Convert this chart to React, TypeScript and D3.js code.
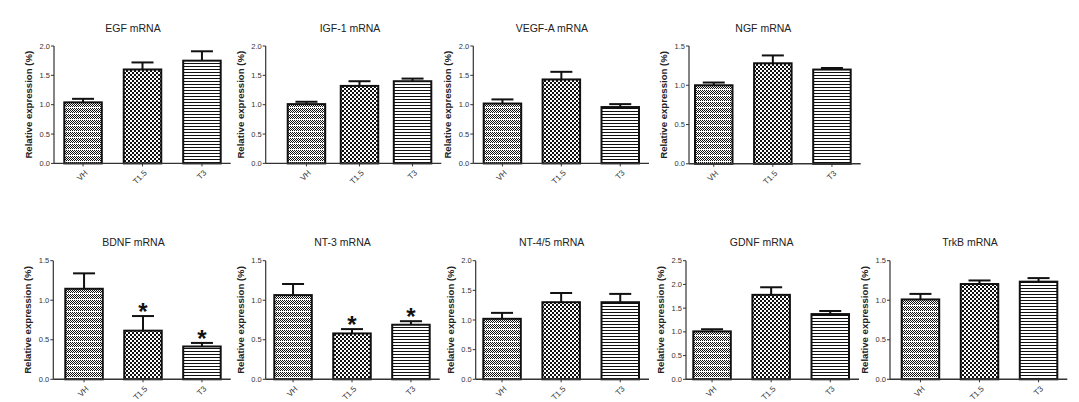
import React from "react";
import * as d3 from "d3";

// ---------- data ----------
const categories = ["VH", "T1.5", "T3"];
const titles = ["EGF mRNA", "IGF-1 mRNA", "VEGF-A mRNA", "NGF mRNA", "BDNF mRNA", "NT-3 mRNA", "NT-4/5 mRNA", "GDNF mRNA", "TrkB mRNA"];
const yMaxValues = [2.0, 2.0, 2.0, 1.5, 1.5, 1.5, 2.0, 2.5, 1.5];
const meanVH = [1.04, 1.01, 1.02, 1.0, 1.145, 1.065, 1.02, 1.01, 1.01];
const meanT15 = [1.6, 1.32, 1.43, 1.28, 0.615, 0.58, 1.3, 1.78, 1.205];
const meanT3 = [1.75, 1.4, 0.96, 1.2, 0.415, 0.69, 1.3, 1.375, 1.235];
const errVH = [0.06, 0.04, 0.07, 0.035, 0.195, 0.14, 0.1, 0.045, 0.07];
const errT15 = [0.12, 0.08, 0.13, 0.1, 0.185, 0.055, 0.155, 0.16, 0.045];
const errT3 = [0.16, 0.045, 0.05, 0.02, 0.045, 0.045, 0.14, 0.065, 0.045];
const starT15 = [false, false, false, false, true, true, false, false, false];
const starT3 = [false, false, false, false, true, true, false, false, false];
const yLabel = "Relative expression (%)";

// ---------- layout ----------
const axisXs = [54, 265.7, 473.3, 689, 53.3, 265.7, 475.7, 686, 890];
const firstLefts = [63.3, 286.7, 482.7, 694, 64.3, 273.3, 482.3, 692.3, 900.7];
const lastRights = [221.7, 432.3, 640, 851.7, 221.7, 430.7, 640, 850, 1058.3];
const rowTop = [46, 46, 46, 46, 260.7, 260.7, 260.7, 260.7, 260.7];
const rowBottom = [163.4, 163.4, 163.4, 163.8, 379.3, 379.3, 379.3, 379.3, 379.3];
const BAR_W = 39.5;
const patternIds = ["patVH", "patT15", "patT3"];
const FONT = "'Liberation Sans', Arial, sans-serif";

function Panel({ i }: { i: number }) {
  const means = [meanVH[i], meanT15[i], meanT3[i]];
  const errs = [errVH[i], errT15[i], errT3[i]];
  const stars = [false, starT15[i], starT3[i]];
  const W = lastRights[i] - firstLefts[i];
  const pad = (W - 3 * BAR_W) / (W - BAR_W);
  const x = d3.scaleBand<string>().domain(categories).range([firstLefts[i], lastRights[i]]).paddingInner(pad).paddingOuter(0);
  const y = d3.scaleLinear().domain([0, yMaxValues[i]]).range([rowBottom[i], rowTop[i]]);
  const ticks = d3.range(0, yMaxValues[i] + 0.001, 0.5);
  const ax = axisXs[i];
  const y0 = rowBottom[i];
  const xEnd = lastRights[i] + 9;
  const bw = x.bandwidth();
  const midCenter = (x("T1.5") as number) + bw / 2;
  const titleY = rowTop[i] - 14.5;
  return (
    <g>
      <text x={midCenter - 9.5} y={titleY} textAnchor="middle" fontSize={10.5} fill="#222" fontFamily={FONT}>
        {titles[i]}
      </text>
      {/* y label */}
      <text
        transform={`translate(${ax - 22},${(rowTop[i] + y0) / 2}) rotate(-90)`}
        textAnchor="middle"
        fontSize={9.6}
        fontWeight="bold"
        fill="#222"
        fontFamily={FONT}
      >
        {yLabel}
      </text>
      {/* bars */}
      {categories.map((c, k) => {
        const bx = x(c) as number;
        const top = y(means[k]);
        const etop = y(means[k] + errs[k]);
        const cx = bx + bw / 2;
        return (
          <g key={c}>
            <line x1={cx} x2={cx} y1={top} y2={etop} stroke="#111" strokeWidth={2} />
            <line x1={cx - 11} x2={cx + 11} y1={etop} y2={etop} stroke="#111" strokeWidth={2} />
            <rect x={bx + 1} y={top} width={bw - 2} height={y0 - top} fill={`url(#${patternIds[k]})`} stroke="#111" strokeWidth={2} />
            {stars[k] && (
              <text x={cx} y={etop + 4} textAnchor="middle" fontSize={24} fontWeight="bold" fill="#111" fontFamily={FONT}>
                *
              </text>
            )}
          </g>
        );
      })}
      {/* axes */}
      <line x1={ax} x2={ax} y1={rowTop[i]} y2={y0} stroke="#333" strokeWidth={1.2} />
      <line x1={ax} x2={xEnd} y1={y0} y2={y0} stroke="#333" strokeWidth={1.4} />
      {ticks.map((t) => (
        <g key={t}>
          <line x1={ax - 3} x2={ax} y1={y(t)} y2={y(t)} stroke="#333" strokeWidth={1} />
          <text x={ax - 4} y={y(t)} dy="0.35em" textAnchor="end" fontSize={7.5} fill="#333" fontFamily={FONT}>
            {t.toFixed(1)}
          </text>
        </g>
      ))}
      {categories.map((c) => {
        const cx = (x(c) as number) + bw / 2;
        return (
          <g key={c}>
            <line x1={cx} x2={cx} y1={y0} y2={y0 + 3} stroke="#333" strokeWidth={1} />
            <text
              transform={`translate(${cx + 3},${y0 + 8}) rotate(-45)`}
              textAnchor="end"
              dy="0.35em"
              fontSize={8}
              fill="#333"
              fontFamily={FONT}
            >
              {c}
            </text>
          </g>
        );
      })}
    </g>
  );
}

export default function App() {
  return (
    <svg width={1079} height={402} style={{ position: "absolute", left: 0, top: 0, background: "#fff" }}>
      <defs>
        <pattern id="patVH" patternUnits="userSpaceOnUse" width={2} height={6}>
          <rect width={2} height={6} fill="#fff" />
          <rect x={0} y={0} width={1} height={1} fill="#111" />
          <rect x={1} y={1} width={1} height={1} fill="#111" />
          <rect x={0} y={2} width={1} height={1} fill="#111" />
          <rect x={1} y={3} width={1} height={1} fill="#111" />
          <rect x={0} y={4} width={1} height={1} fill="#111" />
        </pattern>
        <pattern id="patT15" patternUnits="userSpaceOnUse" width={4} height={4}>
          <rect width={4} height={4} fill="#fff" />
          <rect x={0} y={0} width={2} height={2} fill="#111" />
          <rect x={2} y={2} width={2} height={2} fill="#111" />
        </pattern>
        <pattern id="patT3" patternUnits="userSpaceOnUse" width={4} height={3}>
          <rect width={4} height={3} fill="#fff" />
          <rect x={0} y={0} width={4} height={1} fill="#111" />
        </pattern>
      </defs>
      <rect width={1079} height={402} fill="#fff" />
      {titles.map((_, i) => (
        <Panel key={i} i={i} />
      ))}
    </svg>
  );
}
